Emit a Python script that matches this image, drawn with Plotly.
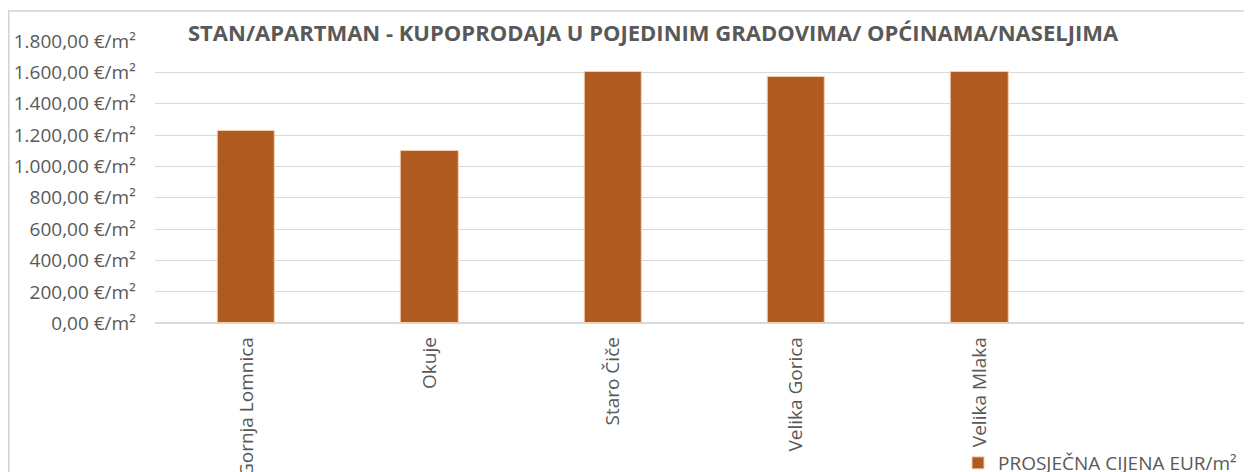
import plotly.graph_objects as go

categories = ["Gornja Lomnica", "Okuje", "Staro Čiče", "Velika Gorica", "Velika Mlaka"]
values = [1225, 1100, 1600, 1572, 1600]
series_name = "PROSJEČNA CIJENA EUR/m²"
title_text = "STAN/APARTMAN - KUPOPRODAJA U POJEDINIM GRADOVIMA/ OPĆINAMA/NASELJIMA"
tick_vals = [0, 200, 400, 600, 800, 1000, 1200, 1400, 1600, 1800]
tick_text = ["0,00 €/m²", "200,00 €/m²", "400,00 €/m²", "600,00 €/m²", "800,00 €/m²",
             "1.000,00 €/m²", "1.200,00 €/m²", "1.400,00 €/m²", "1.600,00 €/m²", "1.800,00 €/m²"]

W, H = 1252, 472
OFF = 8  # page body margin offset
FONT = "Open Sans"
GRAY = "#595959"
FRAME = "#D4D4D4"


def px_x(v):
    return (v - OFF) / W


def px_y(v):
    return 1 - (v - OFF) / H


fig = go.Figure()
fig.add_trace(go.Bar(
    x=list(range(len(categories))),
    y=values,
    name=series_name,
    marker=dict(color="#AE5A21", line=dict(color="#F4CDAE", width=1)),
    width=0.3125,
    showlegend=True,
))

# chart-area frame on a full-figure overlay axis (pixel units)
fig.add_trace(go.Scatter(
    x=[0.75, 0.75, W + 20], y=[H + 20, 3, 3],
    mode="lines", line=dict(color=FRAME, width=1.5),
    xaxis="x2", yaxis="y2", showlegend=False, hoverinfo="skip",
    cliponaxis=False,
))

fig.update_layout(
    width=W, height=H,
    margin=dict(l=0, r=0, t=0, b=0, autoexpand=False),
    paper_bgcolor="white", plot_bgcolor="rgba(0,0,0,0)",
    font=dict(family=FONT, color=GRAY, size=19),
    xaxis=dict(
        domain=[px_x(154.75), px_x(1254.6)],
        range=[-0.5, 5.5],
        tickmode="array",
        tickvals=list(range(len(categories))),
        ticktext=categories,
        tickangle=-90,
        showgrid=False, zeroline=False, showline=False,
        ticks="", ticklabelstandoff=9,
        tickfont=dict(family=FONT, size=19, color=GRAY),
        automargin=False,
    ),
    yaxis=dict(
        domain=[px_y(323.3), px_y(41)],
        range=[0, 1800],
        tickmode="array",
        tickvals=tick_vals,
        ticktext=tick_text,
        showgrid=True, gridcolor="#D9D9D9", gridwidth=1,
        zeroline=True, zerolinecolor="#D9D9D9", zerolinewidth=1.5,
        showline=False, ticks="", ticklabelstandoff=18,
        tickfont=dict(family=FONT, size=19, color=GRAY),
        automargin=False,
    ),
    xaxis2=dict(domain=[0, 1], range=[0, W], visible=False, fixedrange=True,
                anchor="y2"),
    yaxis2=dict(domain=[0, 1], range=[H, 0], visible=False, fixedrange=True,
                anchor="x2"),
    legend=dict(
        x=px_x(950 + OFF), y=px_y(463), xanchor="left", yanchor="middle",
        font=dict(family=FONT, size=19, color=GRAY),
        bgcolor="rgba(0,0,0,0)", itemwidth=30,
    ),
    annotations=[dict(
        text="<b>" + title_text + "</b>",
        xref="paper", yref="paper", x=px_x(653), y=px_y(32),
        xanchor="center", yanchor="middle", showarrow=False,
        font=dict(family=FONT, size=22, color=GRAY),
    )],
    bargap=0,
)

fig.write_html("out.html")
